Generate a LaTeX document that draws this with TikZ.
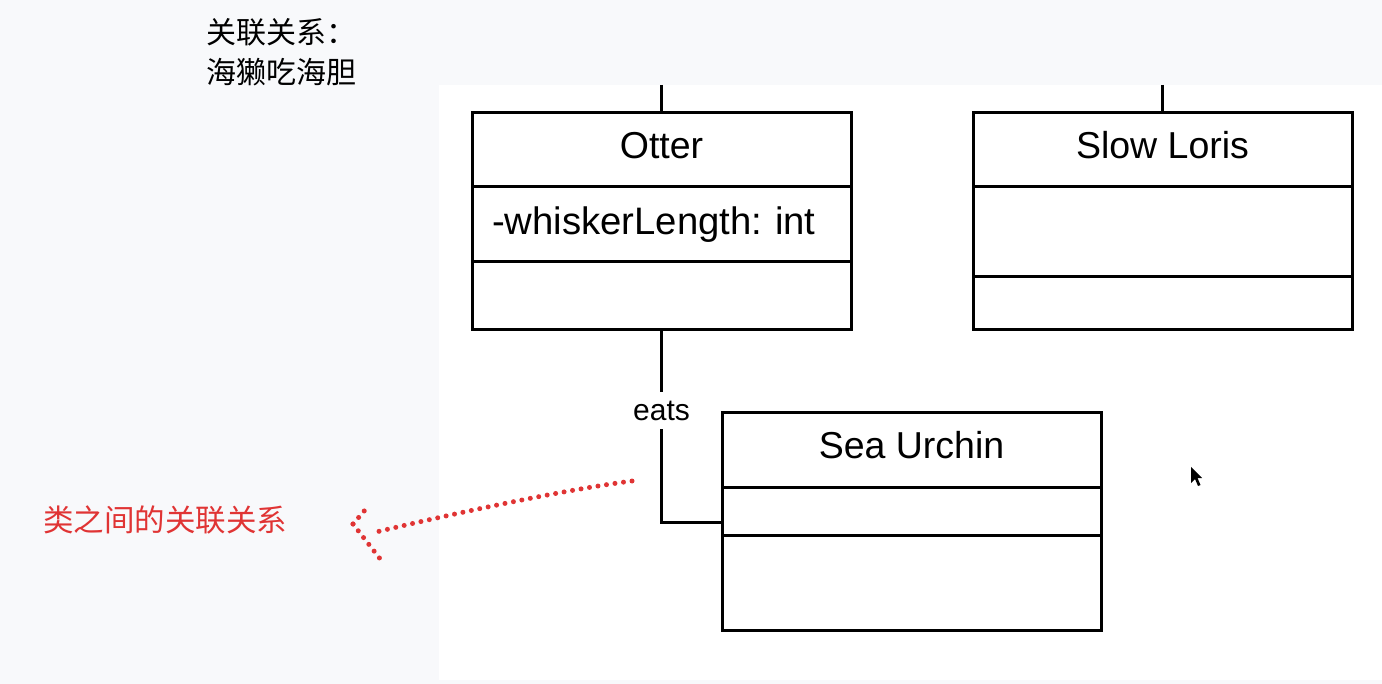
\documentclass[tikz,border=0pt]{standalone}
\usepackage{fontspec}
\setmainfont{Liberation Sans}
\newfontfamily\cjk{Noto Sans CJK SC}
\definecolor{pagegray}{HTML}{F8F9FB}
\definecolor{notered}{HTML}{E03434}
\tikzset{
	compartment/.style={draw, line width=3pt, minimum width=379pt, anchor=north, inner sep=0pt, outer sep=0pt},
	classname/.style={compartment, minimum height=74pt, text depth=10pt, font=\fontsize{37.5}{40}\selectfont},
	attrbox/.style={compartment, text width=339pt, inner xsep=20pt, align=left, font=\fontsize{38.3}{40}\selectfont},
	dots/.style={notered, line width=5pt, line cap=round, dash pattern=on 0pt off 8.6pt},
}

\begin{document}
\begin{tikzpicture}[x=1pt, y=-1pt]
	\useasboundingbox (0,0) rectangle (1382,684);
	\fill[pagegray] (0,0) rectangle (1382,684);
	\fill[white] (439,85) rectangle (1382,680);

	\node[anchor=west, font=\cjk\fontsize{30}{34}\selectfont] (title) at (203,32) {关联关系：};
	\node[anchor=west, font=\cjk\fontsize{30}{34}\selectfont] (subtitle) at (203,72) {海獭吃海胆};

	\node[classname] (otter1) at (661.5,113) {Otter};
	\node[attrbox, minimum height=75pt] (otter2) at (otter1.south) {-whiskerLength:\ int};
	\node[compartment, minimum height=68pt] (otter3) at (otter2.south) {};

	\node[classname] (loris1) at (1162.5,113) {Slow Loris};
	\node[compartment, minimum height=90pt] (loris2) at (loris1.south) {};
	\node[compartment, minimum height=53pt] (loris3) at (loris2.south) {};

	\node[classname] (urchin1) at (911.5,413) {Sea Urchin};
	\node[compartment, minimum height=48pt] (urchin2) at (urchin1.south) {};
	\node[compartment, minimum height=95pt] (urchin3) at (urchin2.south) {};

	\coordinate (otterup) at (661.5,85);
	\coordinate (lorisup) at (1162.5,85);
	\draw[line width=3pt] (otterup) -- (otter1.north);
	\draw[line width=3pt] (lorisup) -- (loris1.north);
	\draw[line width=3pt] (otter3.south) |- ([yshift=-11pt]urchin2.west)
		node[pos=0.21, fill=white, inner xsep=2pt, inner ysep=9pt, font=\fontsize{30}{32}\selectfont] (eats) {eats};

	\node[notered, font=\cjk\fontsize{30.5}{34}\selectfont] (note) at (165,520) {类之间的关联关系};
	\coordinate (tail) at (632,481);
	\coordinate (shaftend) at (372,533);
	\coordinate (tip) at (353,524);
	\coordinate (upperarm) at (365.5,509.5);
	\coordinate (lowerarm) at (381,560);
	\draw[dots] (tail) .. controls (555,491) and (430,519) .. (shaftend);
	\draw[dots] (tip) -- (upperarm);
	\draw[dots] (tip) -- (lowerarm);

	\fill (1191,467) -- (1191,483) -- (1195,479) -- (1198,486) -- (1200.5,485) -- (1197.5,478) -- (1202,478) -- cycle;
\end{tikzpicture}
\end{document}
